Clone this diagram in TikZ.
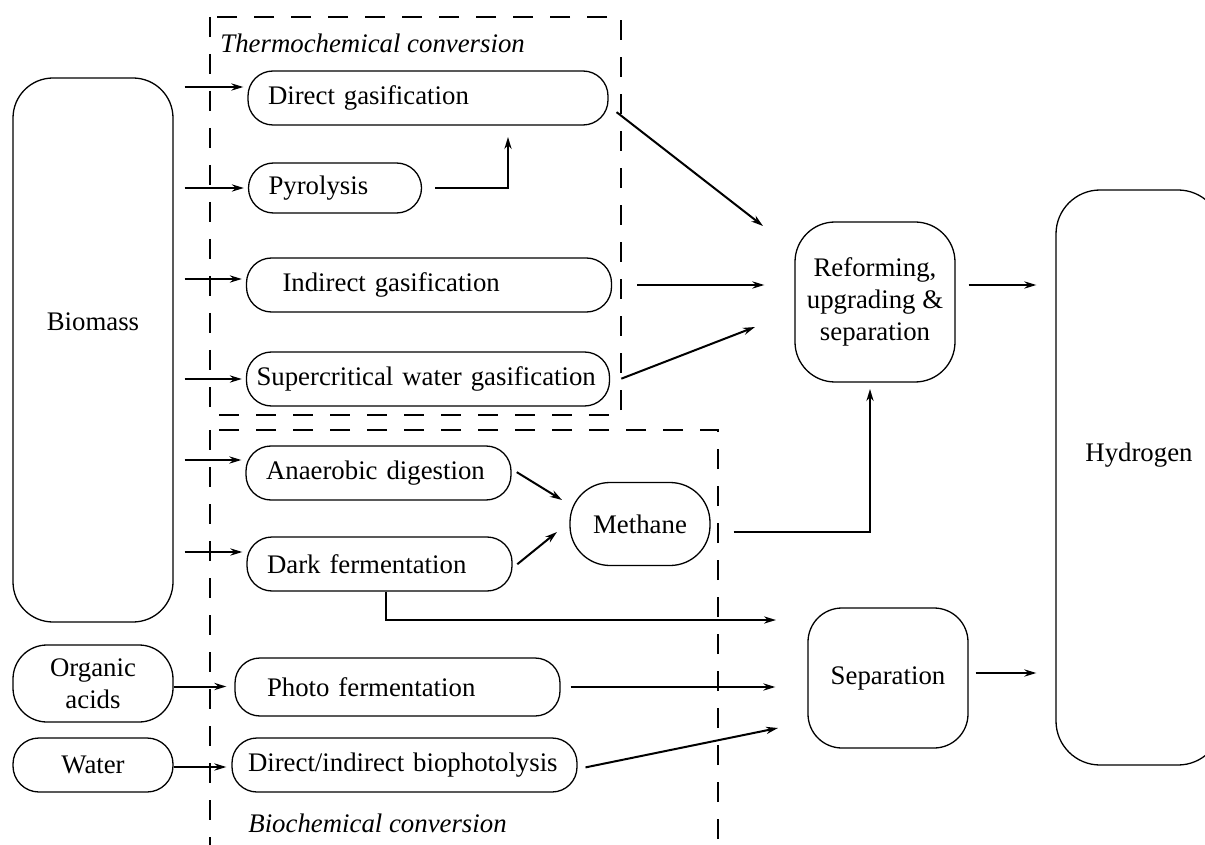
\documentclass[tikz,border=0pt]{standalone}
\usepackage{fontspec}
\setmainfont{Liberation Serif}
\usetikzlibrary{arrows.meta}
\begin{document}
\begin{tikzpicture}[x=0.5pt, y=-0.5pt,
  every node/.style={font=\fontsize{13.4}{16}\selectfont},
  box/.style={draw, line width=0.65pt, inner sep=0pt, align=center},
  proc/.style={box, rounded corners=12.5pt, minimum height=27pt, inner xsep=10pt, align=left},
  zlabel/.style={font=\fontsize{13.4}{16}\selectfont\itshape, anchor=base west, inner sep=0pt},
  arr/.style={-{Stealth[length=6pt,width=3.6pt]}, line width=1pt},
  zone/.style={dash pattern=on 10pt off 8.5pt, line width=1.3pt}]
\clip (0,0) rectangle (1205,845);
% conversion zones
\draw[zone] (210,17) rectangle (621,415);
\draw[zone] (210,430) rectangle (718,880);
\node[zlabel] (thlab) at (220,53) {Thermochemical conversion};
\node[zlabel] (bilab) at (248,832) {Biochemical conversion};
% feedstocks
\node[box, rounded corners=20pt, minimum width=80pt, minimum height=272pt, text depth=28pt] (bio) at (93,350) {Biomass};
\node[box, rounded corners=17pt, minimum width=80pt, minimum height=38.5pt] (oa) at (93,683.5) {Organic\\acids};
\node[box, rounded corners=13pt, minimum width=80pt, minimum height=27pt] (wat) at (93,765) {Water};
% processes
\node[proc, text width=160pt, minimum height=27pt] (dg) at (428,98) {Direct gasification};
\node[proc, text width=66.5pt, minimum height=25pt] (pyr) at (335,188) {Pyrolysis};
\node[proc, text width=162.5pt, minimum height=27pt] (ind) at (429,285) {\hspace*{8pt}Indirect gasification};
\node[proc, text width=171.5pt, inner xsep=5pt, minimum height=27pt] (sc) at (428,379) {\mbox{Supercritical water gasification}};
\node[proc, text width=112.5pt] (ad) at (378.5,473) {Anaerobic digestion};
\node[proc, text width=112.5pt] (df) at (379.5,564) {Dark fermentation};
\node[proc, text width=142.5pt, minimum height=29pt] (pf) at (397.5,687) {\hspace*{6pt}Photo fermentation};
\node[proc, text width=156.5pt, inner xsep=8pt, minimum height=27pt] (bp) at (404.5,765) {\mbox{Direct/indirect biophotolysis}};
\node[box, rounded corners=20pt, minimum width=70pt, minimum height=41.5pt] (met) at (640,524) {Methane};
% products
\node[box, rounded corners=20pt, minimum width=80pt, minimum height=80pt] (ref) at (875,302) {Reforming,\\upgrading \&\\separation};
\node[box, rounded corners=17pt, minimum width=80pt, minimum height=70pt] (sep) at (888,678) {Separation};
\node[box, rounded corners=22pt, minimum width=83pt, minimum height=287.5pt, text depth=25.4pt] (hyd) at (1139,477.5) {Hydrogen};
% free ends
\coordinate (pyup) at (508,126);
\coordinate (r1) at (763,226);
\coordinate (r3) at (755,327);
\coordinate (r4) at (870,382);
\coordinate (m1) at (562,500);
\coordinate (m2) at (557,532);
\coordinate (s1) at (776,620);
\coordinate (s2) at (778,728);
% feed arrows
\draw[arr, shorten <=5.5pt, shorten >=2pt] ([yshift=5.5pt]dg.west -| bio.east) -- ([yshift=5.5pt]dg.west);
\draw[arr, shorten <=5.5pt, shorten >=2pt] (pyr.west -| bio.east) -- (pyr.west);
\draw[arr, shorten <=5.5pt, shorten >=2pt] ([yshift=3pt]ind.west -| bio.east) -- ([yshift=3pt]ind.west);
\draw[arr, shorten <=5.5pt, shorten >=2pt] (sc.west -| bio.east) -- (sc.west);
\draw[arr, shorten <=5.5pt, shorten >=2pt] ([yshift=6.5pt]ad.west -| bio.east) -- ([yshift=6.5pt]ad.west);
\draw[arr, shorten <=5.5pt, shorten >=2pt] ([yshift=6pt]df.west -| bio.east) -- ([yshift=6pt]df.west);
\draw[arr, shorten >=4pt] ([yshift=-1.5pt]oa.east) -- ([yshift=-1.5pt]oa.east -| pf.west);
\draw[arr, shorten >=2.5pt] ([yshift=-1pt]wat.east) -- ([yshift=-1pt]wat.east -| bp.west);
% process arrows
\draw[arr, shorten <=6.5pt, shorten >=5.5pt] (pyr.east) -| (pyup);
\draw[arr, shorten <=5pt] ([yshift=-4pt]dg.east) -- (r1);
\draw[arr, shorten <=12.5pt, shorten >=15pt] (ind.east) -- (ind.east -| ref.west);
\draw[arr, shorten <=6pt] ([yshift=-2pt]sc.east) -- (r3);
\draw[arr, shorten <=3pt] ([yshift=2pt]ad.east) -- (m1);
\draw[arr, shorten <=3pt] ([yshift=-2pt]df.east) -- (m2);
\draw[arr, shorten <=11.5pt, shorten >=3.5pt] ([yshift=-4pt]met.east) -| (r4);
\draw[arr] ([xshift=3.25pt]df.south) |- (s1);
\draw[arr, shorten <=5pt, shorten >=16pt] (pf.east) -- (pf.east -| sep.west);
\draw[arr, shorten <=4pt] ([yshift=-2pt]bp.east) -- (s2);
\draw[arr, shorten <=6.5pt, shorten >=9.5pt] ([yshift=8.5pt]ref.east) -- ([yshift=8.5pt]ref.east -| hyd.west);
\draw[arr, shorten <=3.5pt, shorten >=9.5pt] ([yshift=2.5pt]sep.east) -- ([yshift=2.5pt]sep.east -| hyd.west);
\end{tikzpicture}
\end{document}
